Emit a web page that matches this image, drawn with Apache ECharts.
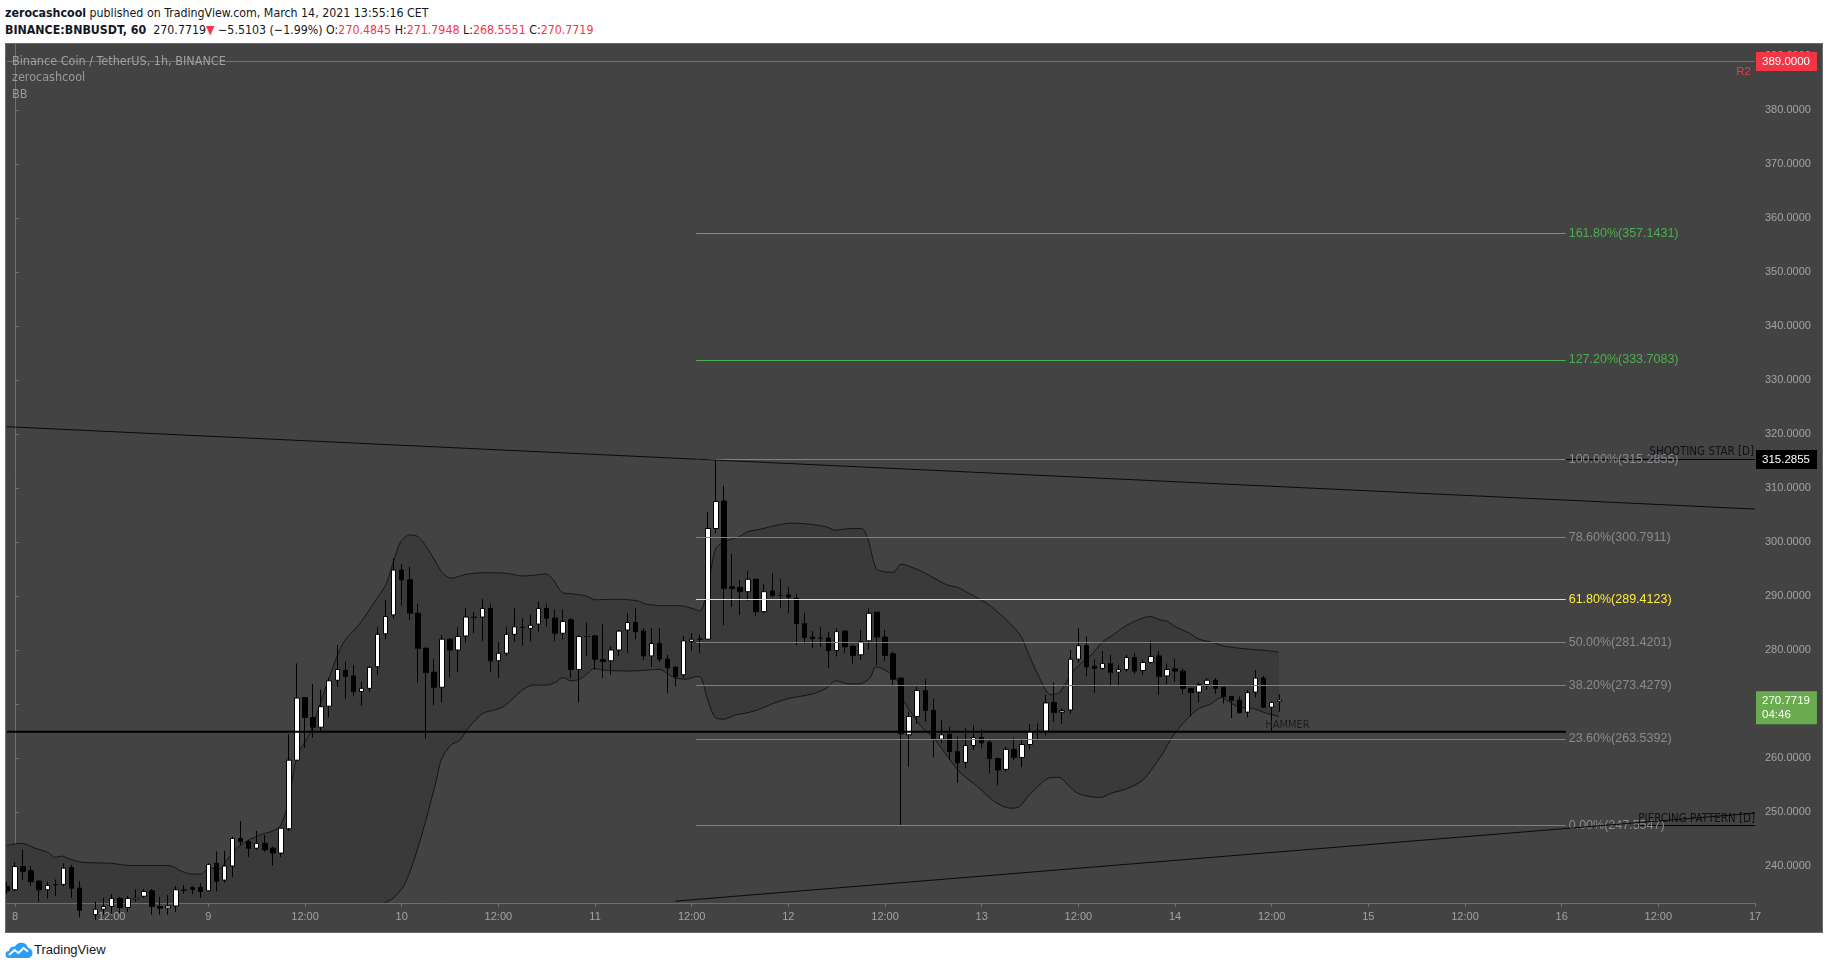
<!DOCTYPE html>
<html>
<head>
<meta charset="utf-8">
<title>BINANCE:BNBUSDT, 60</title>
<script src="https://cdn.jsdelivr.net/npm/echarts@6/dist/echarts.min.js"></script>
<style>
  body { margin: 0; width: 1828px; height: 968px; background: #fff; position: relative; overflow: hidden;
         font-family: "Liberation Sans", Arial, sans-serif; color: #131722; }
  .hdr { position: absolute; left: 5px; font-size: 12.3px; line-height: 14px; white-space: nowrap;
         font-family: "Liberation Sans Narrow", "DejaVu Sans Condensed", "Liberation Sans", sans-serif; }
  .red { color: #f23645; }
  #panel { position: absolute; left: 5px; top: 43px; width: 1818px; height: 890px; box-sizing: border-box;
           border: 1px solid #6b6b6b; background: #434343; }
  #chart { width: 1816px; height: 888px; }
  #logo { position: absolute; left: 5px; top: 942px; }
  #brand { position: absolute; left: 34px; top: 942px; font-size: 13px; line-height: 16px; color: #131722; }
</style>
</head>
<body>
<div class="hdr" style="top:6px"><b>zerocashcool</b> published on TradingView.com, March 14, 2021 13:55:16 CET</div>
<div class="hdr" style="top:23px"><b>BINANCE:BNBUSDT, 60</b>&nbsp; 270.7719<span class="red">&#9660;</span> &minus;5.5103 (&minus;1.99%) O:<span class="red">270.4845</span> H:<span class="red">271.7948</span> L:<span class="red">268.5551</span> C:<span class="red">270.7719</span></div>
<div id="panel"><div id="chart"></div></div>
<svg id="logo" width="28" height="17" viewBox="0 0 28 17">
  <path d="M4 16 H22 A5 5 0 0 0 23 6 A7 7 0 0 0 10 4.5 A5 5 0 0 0 4 9 A3.5 3.5 0 0 0 4 16 Z" fill="#2a9df4"/>
  <polyline points="4,13 9.5,8 13.5,11 18.5,6 23,9.5" fill="none" stroke="#fff" stroke-width="2"/>
</svg>
<div id="brand">TradingView</div>
<script>
// hourly candles, first one is Mar 7 23:00, last one Mar 14 13:00
const opens = [
  236.2,
  235.6, 239.9, 239.1, 237.2, 235.6, 236.5, 236.6, 239.7, 235.9, 231.8,
  231.0, 232.0, 232.5, 234.0, 232.3, 233.9, 234.4, 235.4, 232.5, 232.2,
  232.6, 235.5, 236.0, 236.0, 235.4, 240.5, 237.4, 240.0, 245.1, 244.5,
  243.3, 244.2, 243.3, 242.4, 246.9, 259.6, 271.2, 267.5, 265.7, 269.6,
  274.4, 276.2, 275.2, 272.3, 272.9, 276.9, 283.0, 286.5, 294.8, 293.0,
  286.8, 280.3, 275.9, 273.1, 282.0, 280.0, 282.6, 286.0, 286.1, 287.7,
  278.0, 279.4, 282.9, 284.2, 284.0, 284.8, 287.7, 285.9, 283.1, 285.6,
  276.4, 282.5, 282.6, 278.2, 278.0, 280.0, 283.7, 285.1, 283.5, 278.9,
  281.2, 278.3, 276.8, 275.4, 281.6, 282.0, 282.0, 302.5, 307.6, 291.7,
  291.6, 290.8, 293.1, 287.1, 290.9, 290.1, 290.2, 289.6, 284.9, 282.4,
  282.2, 282.2, 279.9, 283.5, 280.7, 279.1, 281.7, 287.0, 282.4, 279.3,
  274.8, 264.3, 267.7, 272.5, 268.8, 263.5, 264.4, 261.2, 259.2, 262.3,
  263.8, 262.9, 259.9, 257.9, 261.6, 260.1, 262.5, 264.9, 265.0, 270.3,
  268.5, 268.9, 278.3, 280.8, 277.0, 276.6, 277.5, 275.9, 276.4, 278.6,
  276.2, 277.7, 278.9, 275.2, 276.5, 276.1, 272.9, 272.2, 273.6, 274.4,
  273.1, 271.4, 270.7, 268.5, 272.2, 274.8, 269.4, 270.4845
];
const closes = [
  235.4,
  239.9, 239.0, 237.1, 235.6, 236.4, 236.6, 239.6, 235.9, 231.8, 231.0,
  232.0, 232.5, 234.0, 232.3, 234.0, 234.1, 235.3, 232.5, 232.2, 232.6,
  235.6, 235.6, 235.7, 235.3, 240.3, 237.2, 240.0, 245.1, 244.5, 243.3,
  244.2, 243.0, 242.4, 247.0, 259.6, 271.1, 267.5, 265.7, 269.5, 274.3,
  276.4, 275.1, 272.3, 272.9, 276.8, 282.9, 286.2, 294.8, 293.0, 286.8,
  280.3, 275.8, 273.1, 282.0, 280.0, 282.5, 286.1, 286.1, 287.7, 278.0,
  279.4, 282.9, 284.3, 284.2, 284.6, 287.7, 285.9, 283.1, 285.3, 276.4,
  282.5, 282.5, 278.3, 277.9, 280.0, 283.5, 285.1, 283.4, 278.9, 281.2,
  278.3, 276.7, 275.1, 281.7, 282.0, 282.0, 302.5, 307.5, 291.4, 291.4,
  290.8, 293.1, 287.1, 290.8, 290.1, 290.1, 289.8, 284.9, 282.3, 282.1,
  282.2, 279.9, 283.4, 280.6, 279.0, 281.5, 286.8, 282.4, 279.0, 274.6,
  264.5, 267.7, 272.5, 268.8, 263.5, 264.3, 261.2, 259.1, 262.3, 263.8,
  262.8, 259.9, 257.8, 261.6, 260.1, 262.5, 264.9, 264.95, 270.2, 268.4,
  268.8, 278.3, 280.8, 276.9, 276.6, 277.5, 275.8, 276.4, 278.6, 276.1,
  277.7, 278.8, 275.1, 276.4, 276.1, 272.9, 272.1, 273.6, 274.4, 272.9,
  271.4, 270.7, 268.4, 272.1, 274.8, 269.4, 270.3, 270.7719
];
const lows = [
  234.8,
  235.3, 237.4, 236.3, 233.4, 234.0, 234.4, 236.2, 234.1, 230.5, 229.5,
  230.0, 231.0, 231.2, 231.3, 231.5, 233.4, 234.1, 231.0, 231.0, 231.0,
  231.5, 234.9, 234.8, 234.1, 235.3, 235.3, 236.9, 238.0, 243.9, 241.7,
  243.0, 242.6, 240.1, 241.7, 246.5, 259.4, 261.9, 263.8, 264.9, 267.5,
  273.2, 270.9, 271.4, 269.7, 272.3, 275.4, 282.0, 285.9, 288.2, 285.6,
  274.0, 263.6, 269.8, 270.3, 274.9, 275.9, 281.4, 283.1, 281.7, 276.0,
  274.8, 278.9, 281.5, 280.8, 281.6, 283.4, 284.3, 281.7, 282.0, 274.8,
  270.3, 278.8, 276.3, 274.8, 275.4, 278.8, 279.5, 282.0, 278.2, 276.9,
  277.8, 272.0, 273.3, 274.9, 279.9, 279.5, 281.9, 301.6, 284.6, 288.0,
  286.5, 289.1, 286.3, 286.8, 289.8, 287.8, 286.8, 280.9, 281.2, 280.3,
  280.6, 276.7, 278.8, 279.5, 277.5, 278.2, 280.1, 277.2, 278.0, 273.5,
  247.5547, 258.4, 266.3, 266.7, 260.1, 262.7, 259.6, 255.4, 258.1, 261.5,
  261.8, 257.2, 255.0, 257.5, 259.6, 258.3, 261.6, 263.3, 264.3, 266.7,
  266.3, 268.2, 277.7, 275.1, 272.1, 276.3, 273.4, 273.5, 276.0, 275.6,
  275.4, 277.5, 271.7, 273.7, 274.1, 271.9, 267.7, 270.3, 272.6, 271.9,
  270.1, 267.4, 268.2, 267.5, 271.2, 269.2, 265.0, 268.5551
];
const highs = [
  237.0,
  240.7, 243.0, 240.0, 237.4, 237.1, 237.5, 240.5, 240.2, 237.2, 232.8,
  233.4, 234.1, 234.8, 234.3, 234.5, 235.7, 235.7, 235.7, 234.3, 234.6,
  236.3, 236.5, 236.3, 236.8, 240.5, 242.7, 242.8, 245.4, 248.3, 244.8,
  246.5, 245.7, 243.6, 247.0, 264.4, 277.5, 271.3, 273.7, 272.7, 274.8,
  280.9, 277.8, 277.2, 274.1, 277.0, 284.3, 289.3, 297.0, 295.9, 295.4,
  288.6, 280.6, 278.3, 282.8, 282.2, 284.2, 287.7, 287.1, 289.4, 288.6,
  281.5, 284.2, 287.7, 285.9, 286.5, 289.0, 288.6, 287.5, 287.5, 285.9,
  282.8, 285.1, 282.8, 284.8, 280.7, 283.7, 286.8, 287.7, 284.0, 284.0,
  284.0, 279.1, 277.0, 282.6, 283.1, 282.8, 305.6, 315.2855, 310.4, 297.8,
  293.0, 294.7, 293.1, 292.2, 294.2, 293.1, 291.7, 290.4, 286.9, 283.5,
  284.3, 283.4, 284.0, 283.7, 280.9, 283.7, 287.7, 287.0, 283.7, 279.7,
  274.9, 268.6, 273.2, 274.6, 270.9, 267.0, 265.7, 264.0, 265.5, 266.1,
  265.3, 263.3, 260.1, 262.1, 263.8, 263.2, 266.3, 266.4, 271.7, 274.0,
  269.2, 280.0, 284.0, 282.5, 278.2, 279.8, 279.1, 277.2, 279.1, 279.4,
  278.2, 281.7, 279.8, 277.5, 278.3, 276.6, 273.0, 274.0, 274.8, 274.8,
  273.2, 271.5, 271.4, 272.6, 276.3, 275.2, 270.4, 271.7948
];

// Bollinger bands: [hour index from Mar 8 00:00, price]
const upperBand = [
  [-1, 243.8], [0.8, 244.2], [2.5, 243.3], [4.1, 242.5], [5, 241.6], [5.8, 241.85], [6.6, 241.4],
  [8.3, 240.7], [12, 240.5], [14.1, 240.1], [19.1, 240.1], [20.7, 239.0], [22, 238.5], [23, 238.5],
  [24.1, 239.6], [25.3, 239.5], [26.6, 241.7], [27.8, 243.6], [29, 244.8], [30.7, 245.9], [32, 246.5],
  [33, 247.6], [34, 252.2], [35, 260.3], [36.6, 264.6], [38.6, 273.2], [40.7, 281.2], [42.8, 284.9],
  [44.8, 289.3], [46.1, 292.3], [47.1, 297.0], [47.9, 300.1], [49, 301.3], [50, 301.0], [51, 299.3],
  [52.3, 296.1], [53.1, 294.2], [54.1, 293.3], [56, 294.0], [58.1, 294.3], [61, 294.2], [63, 293.7],
  [64.7, 293.9], [65.9, 294.1], [66.8, 293.0], [68, 290.6], [69.2, 290.4], [70.9, 290.0], [72.1, 289.3],
  [74.2, 289.4], [76.3, 289.3], [77.5, 289.0], [78.3, 288.5], [80.4, 288.2], [82.5, 288.2], [84.1, 287.7],
  [85, 287.2], [86, 291.7], [87, 298.8], [88.2, 300.1], [89.9, 301.0], [90.9, 301.9], [92, 302.2],
  [93.7, 302.8], [96.2, 303.5], [98.6, 303.3], [100.7, 302.8], [101.9, 302.2], [103.6, 302.5],
  [105.1, 302.5], [105.9, 300.4], [106.9, 295.1], [107.9, 294.5], [109, 294.4], [110, 295.9],
  [111.7, 295.1], [112.9, 294.3], [114.1, 293.3], [115.8, 292.0], [117, 291.6], [118.3, 290.6],
  [119.9, 289.3], [121.2, 288.0], [122.4, 286.5], [123.6, 284.8], [124.9, 282.5], [125.7, 279.7],
  [127, 275.4], [128.6, 271.7], [129.6, 272.1], [130.3, 273.5], [131.1, 275.6], [132.3, 277.5],
  [133.6, 279.1], [135, 281.5], [136.3, 282.8], [137.9, 284.5], [139.6, 285.7], [140.9, 286.2],
  [142.1, 285.6], [142.9, 285.4], [144.1, 284.3], [145.8, 283.1], [147, 282.0], [148.7, 281.4],
  [149.9, 280.8], [151.6, 280.4], [153.6, 280.1], [155.3, 279.9], [156.9, 279.6]
];
const lowerBand = [
  [45.9, 233.2], [46.9, 234.0], [48.2, 236.2], [49.4, 240.5], [51, 248.5], [52.3, 255.9], [52.9, 259.6],
  [54.1, 262.4], [55.2, 263.3], [56.4, 265.8], [58.1, 268.3], [59.3, 268.8], [60.6, 269.5], [61.8, 271.0],
  [63, 272.6], [64.3, 273.5], [65.9, 273.5], [67.2, 274.1], [68, 274.9], [69, 274.3], [70.1, 274.6],
  [71.1, 275.7], [71.9, 276.6], [73, 276.3], [76.3, 276.1], [80, 276.4], [81.2, 275.4], [82, 274.8],
  [83.3, 274.6], [84.7, 275.1], [85.2, 274.8], [86, 270.7], [87, 267.4], [88, 267.2], [89.5, 268.0],
  [90.7, 268.3], [92.4, 269.0], [94.1, 270.1], [96.2, 271.1], [97.4, 271.4], [99.1, 271.9],
  [100.7, 272.9], [101.9, 274.3], [103.2, 273.8], [104.8, 273.7], [106.1, 274.8], [106.9, 276.9],
  [108.1, 276.2], [109.4, 274.8], [110, 271.5], [111.2, 268.5], [112.5, 265.8], [114.1, 263.6],
  [115.8, 260.2], [117.4, 257.2], [119.5, 254.7], [121.6, 251.9], [123.6, 250.7], [124.7, 251.0],
  [125.7, 252.8], [127.4, 255.3], [128.6, 256.4], [129.6, 256.4], [130.7, 255.0], [131.9, 253.5],
  [133.6, 252.8], [134.8, 252.7], [136.1, 253.5], [138, 254.3], [140, 255.9], [141.2, 258.1],
  [142.5, 260.9], [143.7, 264.0], [145, 266.4], [146.2, 268.3], [147, 269.2], [148.3, 269.9],
  [149.8, 271.2], [150.7, 270.4], [152, 269.4], [153.6, 269.2], [155.3, 268.3], [156.9, 267.7]
];

// drawn lines
const topTrend = [[-1, 321.35], [216, 306.1]];
const bottomTrend = [[82, 233.5], [216, 249.8]];
const supportLine = [[-1, 264.87], [192.5, 264.87]];

// fibonacci retracement
const fibLevels = [1.618, 1.272, 1, 0.786, 0.618, 0.5, 0.382, 0.236, 0];
const fibPrices = [357.1431, 333.7083, 315.2855, 300.7911, 289.4123, 281.4201, 273.4279, 263.5392, 247.5547];
const fibStart = 84.55, fibEnd = 192.5;

const pivotR2 = 389.0;
const lastPrice = 270.7719;
const yTicks = [240, 250, 260, 270, 280, 290, 300, 310, 320, 330, 340, 350, 360, 370, 380, 390];

const yMin = 233.15, yMax = 392.22;
const firstHour = -1, lastHour = 216;

const categories = [];
for (let i = firstHour; i <= lastHour; i++) {
  const h = ((i % 24) + 24) % 24;
  const d = 8 + Math.floor(i / 24);
  categories.push('Mar ' + d + ' ' + String(h).padStart(2, '0') + ':00');
}
const hourOf = (name) => parseInt(name.split(' ')[2], 10);
const dayOf = (name) => name.split(' ')[1];
const isMajor = (idx, name) => hourOf(name) % 12 === 0;

const candleData = categories.map((c, k) =>
  k < opens.length ? [opens[k], closes[k], lows[k], highs[k]] : '-');

const chart = echarts.init(document.getElementById('chart'));

const NARROW = '"Liberation Sans Narrow", "DejaVu Sans Condensed", "Liberation Sans", sans-serif';
const GREY = '#80808a';

function hLine (x1, x2, y, lineStyle, label) {
  return [{ coord: [x1, y], lineStyle: Object.assign({ type: 'solid', width: 1 }, lineStyle), label: label }, { coord: [x2, y] }];
}

const fibMarks = fibLevels.map((lv, n) => {
  const col = lv > 1 ? '#4caf50' : (lv === 0.618 ? '#ffeb3b' : GREY);
  const txtCol = lv > 1 ? '#4caf50' : (lv === 0.618 ? '#ffeb3b' : '#8a8a92');
  return hLine(fibStart, fibEnd, fibPrices[n], { color: col }, {
    show: true, position: 'end', distance: 3, color: txtCol, fontSize: 12.5,
    formatter: (lv * 100).toFixed(2) + '%(' + fibPrices[n].toFixed(4) + ')'
  });
});

const none = { color: 'rgba(0,0,0,0)' };
const boxLabel = (text, bg, dy) => ({
  show: true, position: 'end', distance: 1, formatter: text, color: '#fff', fontSize: 11.5,
  backgroundColor: bg, padding: [3, 7, 2, 6], lineHeight: 14, offset: [0, dy || 0]
});

const markLines = fibMarks.concat([
  hLine(firstHour, lastHour, pivotR2, { color: '#f23645' }, boxLabel('389.0000', '#f23645')),
  hLine(firstHour, lastHour, pivotR2, none, { show: true, position: 'insideEndBottom', distance: 4, formatter: 'R2', color: '#f23645', fontSize: 11.5 }),
  hLine(fibEnd, lastHour, fibPrices[2], { color: '#000' }, { show: true, position: 'insideEndTop', distance: 1, formatter: 'SHOOTING STAR [D]', color: '#111', fontSize: 11.5, fontFamily: NARROW }),
  hLine(fibEnd, lastHour, fibPrices[2], none, boxLabel('315.2855', '#000')),
  hLine(201.3, lastHour, fibPrices[8], { color: '#000' }, { show: true, position: 'insideEndTop', distance: 0, formatter: 'PIERCING PATTERN [D]', color: '#111', fontSize: 11.5, fontFamily: NARROW }),
  hLine(firstHour, lastHour, lastPrice, none, boxLabel('270.7719\n04:46', '#69ab4e', 8))
]);

const option = {
  animation: false,
  textStyle: { fontFamily: '"Liberation Sans", Arial, sans-serif' },
  grid: { left: 1, right: 67, top: 0, bottom: 29 },
  graphic: [
    { type: 'text', left: 6, top: 11, z: 100, style: { text: 'Binance Coin / TetherUS, 1h, BINANCE', fill: '#a0a0a0', font: '12.5px ' + NARROW } },
    { type: 'text', left: 6, top: 27, z: 100, style: { text: 'zerocashcool', fill: '#9a9a9a', font: '12.5px ' + NARROW } },
    { type: 'text', left: 6, top: 44, z: 100, style: { text: 'BB', fill: '#9a9a9a', font: '12.5px ' + NARROW } }
  ],
  xAxis: [
    {
      type: 'category', data: categories, boundaryGap: false,
      axisLine: { lineStyle: { color: '#6e6e6e' } },
      axisTick: { show: true, length: 4, interval: isMajor, lineStyle: { color: '#6e6e6e' } },
      axisLabel: {
        interval: isMajor, color: '#a3a3a3', fontSize: 11, margin: 8,
        formatter: (name) => hourOf(name) === 0 ? dayOf(name) : '12:00'
      },
      splitLine: { show: false }
    },
    { type: 'value', min: firstHour, max: lastHour, show: false }
  ],
  yAxis: {
    type: 'value', position: 'right', min: yMin, max: yMax,
    axisLine: { show: true, lineStyle: { color: '#6e6e6e' } },
    axisTick: { show: true, length: 4, customValues: yTicks, lineStyle: { color: '#6e6e6e' } },
    axisLabel: { customValues: yTicks, color: '#a3a3a3', fontSize: 11, margin: 10, formatter: (v) => v.toFixed(4) },
    splitLine: { show: false }
  },
  series: [
    {
      name: 'BB upper', type: 'line', xAxisIndex: 1, data: upperBand, smooth: 0.3, symbol: 'none', silent: true, z: 1,
      lineStyle: { color: '#151515', width: 1 }, areaStyle: { color: '#3a3a3a', opacity: 1, origin: 'start' }
    },
    {
      name: 'BB lower', type: 'line', xAxisIndex: 1, data: lowerBand, smooth: 0.3, symbol: 'none', silent: true, z: 1,
      lineStyle: { color: '#151515', width: 1 }, areaStyle: { color: '#434343', opacity: 1, origin: 'start' }
    },
    {
      name: 'BNBUSDT', type: 'candlestick', data: candleData, barWidth: 5, z: 3,
      itemStyle: { color: '#ffffff', color0: '#000000', borderColor: '#000000', borderColor0: '#000000', borderColorDoji: '#000000', borderWidth: 1 }
    },
    {
      name: 'trend top', type: 'line', xAxisIndex: 1, data: topTrend, symbol: 'none', silent: true, z: 5,
      lineStyle: { color: '#0a0a0a', width: 1 }
    },
    {
      name: 'trend bottom', type: 'line', xAxisIndex: 1, data: bottomTrend, symbol: 'none', silent: true, z: 5,
      lineStyle: { color: '#0a0a0a', width: 1 }
    },
    {
      name: 'support', type: 'line', xAxisIndex: 1, data: supportLine, symbol: 'none', silent: true, z: 5, clip: false,
      lineStyle: { color: '#000000', width: 2 },
      markLine: { silent: true, symbol: ['none', 'none'], data: markLines },
      markPoint: {
        silent: true,
        data: [{
          coord: [155.2, 266.0], symbol: 'rect', symbolSize: 0,
          label: { show: true, position: 'right', distance: 0, formatter: 'HAMMER', color: '#1c1c1c', fontSize: 11, fontFamily: NARROW }
        }]
      }
    }
  ]
};

chart.setOption(option);
</script>
</body>
</html>
